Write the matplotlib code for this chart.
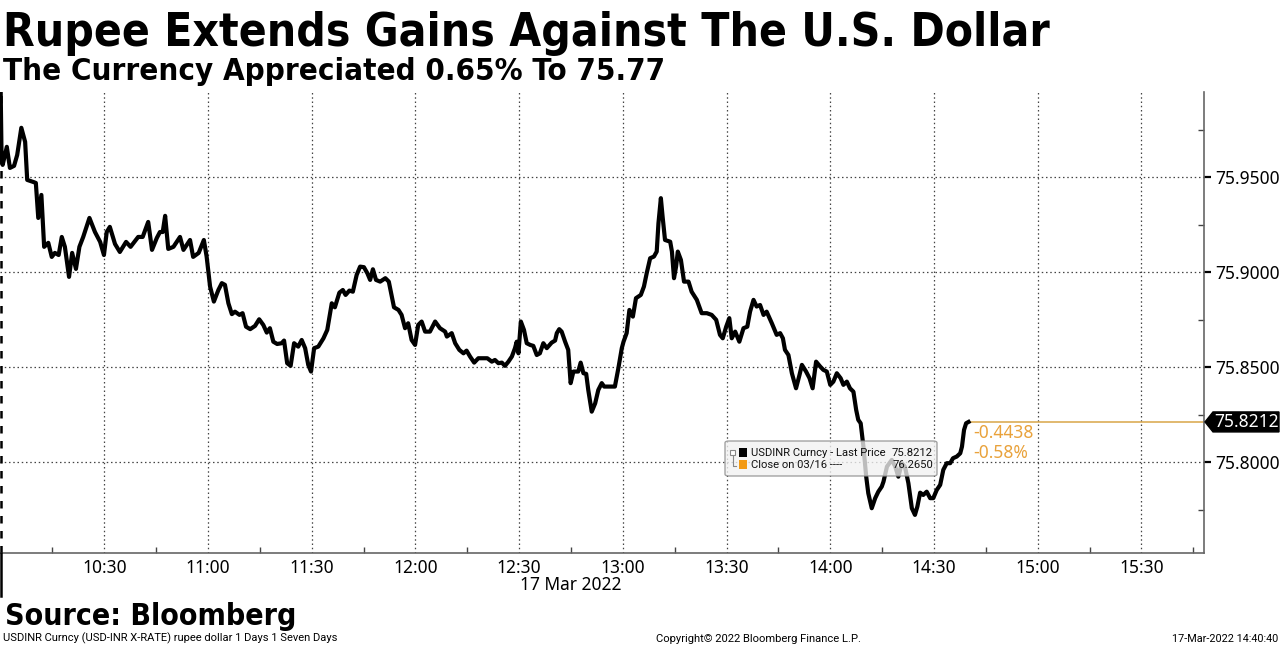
import matplotlib
matplotlib.use('Agg')
import matplotlib.pyplot as plt
from matplotlib import font_manager
from matplotlib.patches import Polygon, FancyBboxPatch, Rectangle
from matplotlib.lines import Line2D

# ---------------- data ----------------
minutes = [0.0, 0.3, 0.6, 1.8, 2.7, 3.9, 4.8, 6.0, 7.1, 7.7, 9.5, 10.2, 10.9, 11.8, 12.6, 13.8, 14.8, 15.7, 16.8, 17.7,
           18.6, 19.8, 20.7, 21.8, 22.8, 23.9, 25.7, 27.3, 28.8, 29.9, 30.7, 31.6, 33.1, 34.5, 36.3, 37.6, 39.8, 41.1,
           42.7, 43.8, 45.2, 46.1, 46.9, 47.6, 48.5, 50.0, 51.9, 52.9, 54.8, 55.7, 57.3, 58.8, 59.6, 60.6, 61.7, 63.0,
           64.0, 64.9, 65.9, 66.9, 67.8, 69.1, 70.0, 71.0, 72.2, 73.6, 74.8, 76.0, 77.0, 77.9, 78.9, 80.0, 81.3, 82.0,
           82.9, 83.9, 84.9, 86.1, 87.1, 88.1, 89.0, 89.8, 90.7, 91.9, 93.4, 94.5, 95.8, 96.7, 98.0, 99.0, 99.8, 100.9,
           101.9, 103.0, 104.0, 105.1, 106.1, 106.9, 107.7, 108.6, 109.8, 111.3, 112.3, 113.8, 115.1, 116.0, 117.0,
           117.9, 118.9, 119.9, 120.8,
           121.8, 122.8, 124.2, 125.7, 127.1, 128.6, 129.1, 130.5, 131.5, 132.7, 133.9, 134.8, 135.8, 137.0, 138.2,
           140.8, 142.1, 143.0, 144.0, 145.0, 145.9, 146.9, 147.9, 148.8, 149.3, 149.8, 150.5, 151.4, 152.2, 153.2,
           154.1, 155.1, 156.0, 157.0, 158.0, 159.4, 160.4, 160.9, 161.6, 162.3, 163.3, 164.2, 164.9, 165.7, 167.1,
           167.8, 168.6, 169.4, 170.0, 171.0, 172.0, 172.9, 173.9, 174.6, 175.8, 177.7, 178.7, 179.7,
           180.2, 181.1, 181.9, 182.9, 183.8, 185.2, 186.1, 186.9, 187.9, 189.0, 189.8, 190.3, 191.0, 191.5, 192.2,
           193.7, 194.2, 194.8, 195.4, 195.9, 196.8, 197.7, 199.0, 199.9, 201.4, 202.8, 204.3, 205.7, 207.0, 208.1,
           208.9, 209.9, 210.8, 211.5, 212.5, 213.7, 214.9, 216.0, 216.8, 217.8, 218.7, 219.7, 220.7, 221.6, 223.1,
           224.5, 225.5,
           226.3, 226.9, 227.9, 228.9, 230.1, 231.1, 231.8, 233.0, 234.0, 234.9, 235.9, 237.1, 238.0, 239.0, 240.0,
           240.9, 241.9, 243.0, 243.8, 244.8, 245.7, 246.7, 247.5, 248.1, 248.8, 249.6, 250.4, 251.0, 252.0, 253.0,
           253.9, 254.9, 255.4, 256.4, 257.8, 258.8, 259.7, 260.7, 261.6, 262.6, 263.6, 264.5, 265.2, 266.0, 266.9,
           267.9, 268.9, 269.8, 270.8, 271.8, 272.7, 273.7, 274.7, 275.5, 276.6, 277.6, 278.1, 278.7, 279.3, 280.0]

prices = [75.999, 75.9580, 75.9564, 75.9659, 75.9548, 75.9559, 75.9616, 75.9759, 75.9685, 75.9485, 75.9474, 75.9469,
          75.9285, 75.9406, 75.9133, 75.9154, 75.9080, 75.9101, 75.9090, 75.9185, 75.9133, 75.8975, 75.9101, 75.9017,
          75.9133, 75.9185, 75.9285, 75.9211, 75.9159, 75.9090, 75.9211, 75.9238, 75.9148, 75.9106, 75.9159, 75.9133,
          75.9185, 75.9185, 75.9264, 75.9117, 75.9180, 75.9211, 75.9211, 75.9296, 75.9122, 75.9133, 75.9185, 75.9117,
          75.9169, 75.9080, 75.9101, 75.9169, 75.9082, 75.8924, 75.8845, 75.8906,
          75.8942, 75.8933, 75.8836, 75.8779, 75.8792, 75.8775, 75.8784, 75.8713, 75.8700, 75.8717, 75.8752, 75.8722,
          75.8682, 75.8705, 75.8634, 75.8622, 75.8626, 75.8640, 75.8521, 75.8507, 75.8626, 75.8608, 75.8643, 75.8600,
          75.8512, 75.8477, 75.8600, 75.8608, 75.8652, 75.8696, 75.8836, 75.8815, 75.8892, 75.8906, 75.8880, 75.8903,
          75.8897, 75.8985, 75.9029, 75.9026, 75.8994, 75.8959, 75.9015, 75.8959, 75.8950, 75.8968, 75.8950, 75.8815,
          75.8801, 75.8775, 75.8705, 75.8731, 75.8643, 75.8617, 75.8722,
          75.8740, 75.8687, 75.8687, 75.8740, 75.8705, 75.8687, 75.8661, 75.8679, 75.8626, 75.8591, 75.8573, 75.8587,
          75.8556, 75.8524, 75.8547, 75.8547, 75.8529, 75.8538, 75.8521, 75.8524, 75.8507, 75.8529, 75.8556, 75.8600,
          75.8634, 75.8573, 75.8740, 75.8696, 75.8626, 75.8617, 75.8612, 75.8564, 75.8573, 75.8626, 75.8600, 75.8629,
          75.8640, 75.8679, 75.8700, 75.8687, 75.8634, 75.8591, 75.8416, 75.8477, 75.8477, 75.8524, 75.8468, 75.8465,
          75.8380, 75.8266, 75.8310, 75.8380, 75.8416, 75.8398, 75.8398, 75.8398, 75.8494, 75.8600,
          75.8634, 75.8679, 75.8801, 75.8766, 75.8863, 75.8880, 75.8924, 75.8994, 75.9073, 75.9082, 75.9108, 75.9257,
          75.9389, 75.9292, 75.9169, 75.9160, 75.9108, 75.8968, 75.9029, 75.9108, 75.9064, 75.8950, 75.8950, 75.8897,
          75.8854, 75.8784, 75.8784, 75.8775, 75.8749, 75.8670, 75.8652, 75.8713, 75.8758, 75.8652, 75.8687, 75.8634,
          75.8705, 75.8713, 75.8792, 75.8854, 75.8819, 75.8827, 75.8775, 75.8792, 75.8731, 75.8670, 75.8679,
          75.8652, 75.8591, 75.8564, 75.8468, 75.8389, 75.8459, 75.8512, 75.8477, 75.8442, 75.8389, 75.8529, 75.8503,
          75.8486, 75.8477, 75.8407, 75.8424, 75.8468, 75.8442, 75.8407, 75.8424, 75.8389, 75.8371, 75.8275, 75.8223,
          75.8205, 75.8082, 75.7924, 75.7837, 75.7758, 75.7811, 75.7845, 75.7872, 75.7898, 75.7977, 75.8012, 75.7977,
          75.7924, 75.7995, 75.7977, 75.7890, 75.7758, 75.7723, 75.7767, 75.7840, 75.7828, 75.7845, 75.7811, 75.7811,
          75.7854, 75.7881, 75.7960, 75.7995, 75.7995, 75.8021, 75.8030, 75.8047, 75.8082, 75.8170, 75.8205, 75.8212]

x_tick_labels = ['10:30', '11:00', '11:30', '12:00', '12:30', '13:00', '13:30', '14:00', '14:30', '15:00', '15:30']
y_ticks = [75.80, 75.85, 75.90, 75.95]
y_minor = [75.775, 75.825, 75.875, 75.925, 75.975]
last_price = 75.8212
prev_close = 76.2650
net_change = -0.4438
pct_change = -0.58
date_label = '17 Mar 2022'
title = 'Rupee Extends Gains Against The U.S. Dollar'
subtitle = 'The Currency Appreciated 0.65% To 75.77'
source = 'Source: Bloomberg'
foot_left = 'USDINR Curncy (USD-INR X-RATE) rupee dollar 1 Days 1 Seven Days'
foot_mid = 'Copyright\u00a9 2022 Bloomberg Finance L.P.'
foot_right = '17-Mar-2022 14:40:40'

# ---------------- fonts ----------------
avail = {f.name for f in font_manager.fontManager.ttflist}
def pick(*names):
    for n in names:
        if n in avail:
            return n
    return 'DejaVu Sans'
BOLD = pick('DejaVu Sans Condensed', 'DejaVu Sans')
TICK = pick('Noto Sans', 'Open Sans', 'DejaVu Sans')
NARROW = pick('Liberation Sans Narrow', 'Roboto', 'DejaVu Sans')

W, H = 1280, 646
fig = plt.figure(figsize=(W / 100, H / 100), dpi=100)
fig.patch.set_facecolor('white')
renderer = fig.canvas.get_renderer()

def fx(px):
    return px / W

def fy(py):
    return 1 - py / H

def fit(t, target_w):
    bb = t.get_window_extent(renderer)
    t.set_fontsize(t.get_fontsize() * target_w / bb.width)

AX_L, AX_R, AX_T, AX_B = 0.0, 1204.3, 91.7, 553.3
ax = fig.add_axes([fx(AX_L), fy(AX_B), (AX_R - AX_L) / W, (AX_B - AX_T) / H])
XMIN, XMAX = -0.17, 348.2
YMIN, YMAX = 75.7521, 75.9949
ax.set_xlim(XMIN, XMAX)
ax.set_ylim(YMIN, YMAX)
ax.set_facecolor('white')

def tpos(lbl):
    h, m = lbl.split(':')
    return int(h) * 60 + int(m) - 600

xt = [tpos(l) for l in x_tick_labels]
ax.set_xticks(xt)
ax.set_xticklabels(x_tick_labels, fontfamily=TICK, fontsize=12.5)
ax.set_xticks([15 * k for k in range(1, 24)], minor=True)
ax.tick_params(axis='x', which='major', length=0, pad=4, colors='black')
ax.tick_params(axis='x', which='minor', direction='in', length=4, width=1, color='#444444')

ax.yaxis.tick_right()
ax.set_yticks(y_ticks)
ax.set_yticklabels([f'{v:.4f}' for v in y_ticks], fontfamily=TICK, fontsize=12.5)
ax.set_yticks(y_minor, minor=True)
ax.tick_params(axis='y', which='major', direction='out', length=5, width=1.6, pad=3, color='black')
ax.tick_params(axis='y', which='minor', direction='in', length=4, width=1, color='#444444')

for s in ['top', 'left']:
    ax.spines[s].set_visible(False)
for s in ['bottom', 'right']:
    ax.spines[s].set_color('#666666')
    ax.spines[s].set_linewidth(1.2)

ax.grid(True, which='major', color='#444444', linestyle=(0, (1.2, 2.2)), linewidth=0.9)
ax.set_axisbelow(True)

# day boundary dashed line
ax.axvline(0, color='black', linestyle=(0, (3, 3)), linewidth=1.8, clip_on=False, zorder=1)
fig.add_artist(Line2D([fx(1.0), fx(1.0)], [fy(AX_B), fy(596)], color='black', linewidth=1.8))

# price line
ax.plot(minutes, prices, color='black', linewidth=3.0, solid_joinstyle='round', zorder=3)

# orange last price level line
ax.plot([minutes[-1], XMAX], [last_price, last_price], color='#D9A548', linewidth=1.1, zorder=2)

def ypix(v):
    return AX_T + (YMAX - v) / (YMAX - YMIN) * (AX_B - AX_T)

def xpix(m):
    return AX_L + (m - XMIN) / (XMAX - XMIN) * (AX_R - AX_L)

# last price tag
yp = ypix(last_price)
tag = Polygon([(fx(1205), fy(yp)), (fx(1213), fy(yp - 10)), (fx(1279), fy(yp - 10)),
               (fx(1279), fy(yp + 10)), (fx(1213), fy(yp + 10))], closed=True,
              facecolor='black', edgecolor='black', transform=fig.transFigure)
fig.add_artist(tag)
fig.text(fx(1214), fy(yp), f'{last_price:.4f}', color='white', fontfamily=TICK, fontsize=12.5,
         va='center', ha='left')

# change annotations
xc = xpix(minutes[-1]) + 5
fig.text(fx(xc), fy(yp + 11), f'{net_change:.4f}', color='#E9A23B', fontfamily=TICK, fontsize=12.5,
         va='center', ha='left')
fig.text(fx(xc), fy(yp + 31), f'{pct_change:.2f}%', color='#E9A23B', fontfamily=TICK, fontsize=12.5,
         va='center', ha='left')

# legend box
bx0, by0, bx1, by1 = 725, 441, 937, 476
box = FancyBboxPatch((fx(bx0), fy(by1)), fx(bx1 - bx0), (by1 - by0) / H,
                     boxstyle='round,pad=0,rounding_size=0.003', transform=fig.transFigure,
                     facecolor='#f2f2f2', edgecolor='#8a8a8a', linewidth=1.0, alpha=0.78, zorder=5)
fig.add_artist(box)
fig.add_artist(Rectangle((fx(730), fy(455)), fx(5), 5 / H, facecolor='white', edgecolor='#888888',
                         linewidth=0.8, transform=fig.transFigure, zorder=6))
fig.add_artist(Line2D([fx(732.5), fx(732.5), fx(736)], [fy(456), fy(466), fy(466)], color='#888888',
                      linewidth=0.8, zorder=6))
fig.add_artist(Rectangle((fx(738.5), fy(457)), fx(8), 9 / H, facecolor='black', edgecolor='none',
                         transform=fig.transFigure, zorder=6))
fig.add_artist(Rectangle((fx(738.5), fy(469)), fx(8), 9 / H, facecolor='#F39A13', edgecolor='none',
                         transform=fig.transFigure, zorder=6))
t1 = fig.text(fx(751), fy(452.5), 'USDINR Curncy - Last Price', fontfamily=NARROW, fontsize=9,
              va='center', ha='left', color='#111111', zorder=7)
fit(t1, 136)
lfs = t1.get_fontsize()
fig.text(fx(933), fy(452.5), f'{last_price:.4f}', fontfamily=NARROW, fontsize=lfs,
         va='center', ha='right', color='#111111', zorder=7)
fig.text(fx(751), fy(464.5), 'Close on 03/16 ----', fontfamily=NARROW, fontsize=lfs,
         va='center', ha='left', color='#111111', zorder=7)
fig.text(fx(933), fy(464.5), f'{prev_close:.4f}', fontfamily=NARROW, fontsize=lfs,
         va='center', ha='right', color='#111111', zorder=7)

# date label
fig.text(fx(571), fy(585), date_label, fontfamily=TICK, fontsize=12.5, ha='center', va='center')

# titles
tt = fig.text(fx(3), fy(46), title, fontfamily=BOLD, fontweight='bold', fontstretch='condensed',
              fontsize=30, va='baseline', ha='left')
fit(tt, 1044)
st = fig.text(fx(3), fy(80), subtitle, fontfamily=BOLD, fontweight='bold', fontstretch='condensed',
              fontsize=20, va='baseline', ha='left')
fit(st, 662)
so = fig.text(fx(5), fy(625), source, fontfamily=BOLD, fontweight='bold', fontstretch='condensed',
              fontsize=20, va='baseline', ha='left')
fit(so, 292)

# footer
f1 = fig.text(fx(3), fy(638.5), foot_left, fontfamily=NARROW, fontsize=7.5, va='center', ha='left')
fit(f1, 332)
f2 = fig.text(fx(758), fy(638.5), foot_mid, fontfamily=NARROW, fontsize=7.5, va='center', ha='center')
fit(f2, 207)
f3 = fig.text(fx(1278), fy(638.5), foot_right, fontfamily=NARROW, fontsize=7.5, va='center', ha='right')
fit(f3, 106)

fig.savefig('out.png', dpi=100, facecolor='white')
